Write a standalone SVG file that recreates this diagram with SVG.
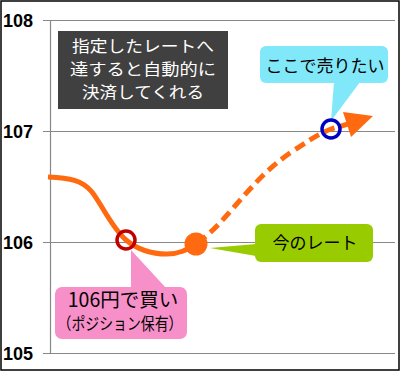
<svg xmlns="http://www.w3.org/2000/svg" width="401" height="372" viewBox="0 0 401 372">
<defs>
<style>
.grid{stroke:#888;stroke-width:1.2;fill:none}
.ax{font-family:"Liberation Sans",Arial,sans-serif;font-weight:bold;font-size:18px;fill:#000}
.jp{font-family:"Noto Sans CJK JP","Noto Sans",sans-serif;text-anchor:middle}
.orange{stroke:#FF6A10;stroke-width:5;fill:none;stroke-linecap:butt}
</style>
</defs>
<rect x="1" y="1" width="398" height="369" fill="#fff" stroke="#000" stroke-width="1.5"/>
<g id="axes">
<line class="grid" x1="50.5" y1="20.5" x2="50.5" y2="353.5"/>
<line class="grid" x1="43" y1="20.5" x2="395" y2="20.5"/>
<line class="grid" x1="43" y1="131.5" x2="395" y2="131.5"/>
<line class="grid" x1="43" y1="242.5" x2="395" y2="242.5"/>
<line class="grid" x1="43" y1="353.5" x2="395" y2="353.5"/>
<text class="ax" x="3" y="27">108</text>
<text class="ax" x="3" y="138">107</text>
<text class="ax" x="3" y="249">106</text>
<text class="ax" x="3" y="360">105</text>
</g>
<g id="note">
<rect x="58" y="31" width="170" height="78" fill="#404040"/>
<text class="jp" x="143" y="52" font-size="15.8" fill="#fff" textLength="142" lengthAdjust="spacingAndGlyphs">指定したレートへ</text>
<text class="jp" x="143" y="75" font-size="15.8" fill="#fff" textLength="146" lengthAdjust="spacingAndGlyphs">達すると自動的に</text>
<text class="jp" x="143" y="98" font-size="15.8" fill="#fff" textLength="122" lengthAdjust="spacingAndGlyphs">決済してくれる</text>
</g>
<g id="connectors">
<path class="orange" d="M48,177 C70,178 82,180 92,192 C102,205 112,228 126,240 C138,250 152,254 167,254 C180,254 188,249 197,244"/>
<path class="orange" stroke-dasharray="11 6" d="M197,243 C228,222 248,182 290,153 C305,143 318,134 331,129 L348,124"/>
<polygon points="373,116 343,112 351,137" fill="#FF6A10"/>
</g>
<g id="sell-callout">
<polygon points="334,82 360,82 331,121" fill="#80E8F8"/>
<rect x="260" y="46" width="128" height="37" rx="6" fill="#80E8F8"/>
<text class="jp" x="325" y="72" font-size="17" fill="#000">ここで売りたい</text>
</g>
<g id="sell-point">
<circle cx="331" cy="129" r="9" fill="none" stroke="#0000C0" stroke-width="3.5"/>
</g>
<g id="current-callout">
<polygon points="256,244 256,256 210,248" fill="#99CC00"/>
<rect x="255" y="224" width="118" height="38" rx="6" fill="#99CC00"/>
<text class="jp" x="315" y="249" font-size="17" fill="#000">今のレート</text>
</g>
<g id="current-point">
<circle cx="196" cy="244" r="11.5" fill="#FF6A10"/>
</g>
<g id="buy-callout">
<polygon points="131,288 166,288 131,250" fill="#F78FC8"/>
<rect x="55" y="287" width="132" height="52" rx="7" fill="#F78FC8"/>
<text class="jp" x="123" y="307" font-size="19.5" fill="#000">106円で買い</text>
<text class="jp" x="120" y="330" font-size="16.5" fill="#000" textLength="125" lengthAdjust="spacingAndGlyphs">（ポジション保有）</text>
</g>
<g id="buy-point">
<circle cx="126" cy="240" r="9" fill="none" stroke="#C00000" stroke-width="3.5"/>
</g>
</svg>
